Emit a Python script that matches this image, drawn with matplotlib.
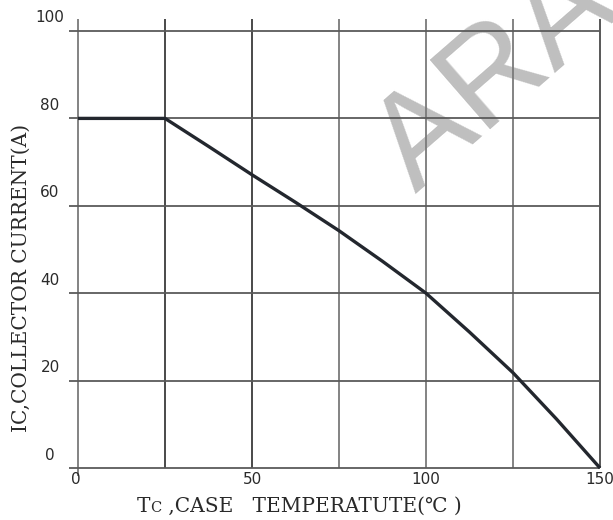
import matplotlib
matplotlib.use("Agg")
import matplotlib.pyplot as plt
from matplotlib.offsetbox import TextArea, HPacker, AnnotationBbox

# ---- data ----
temp_c = [0, 25, 37.5, 50, 62.5, 75, 87.5, 100, 112.5, 125, 137.5, 150]
current_a = [80, 80, 73.6, 67.1, 60.8, 54.3, 47.3, 40.0, 31.1, 21.8, 11.2, 0]
x_ticks = [0, 25, 50, 75, 100, 125, 150]
x_tick_labels = ["0", "50", "100", "150"]
x_tick_label_pos = [0, 50, 100, 150]
y_ticks = [0, 20, 40, 60, 80, 100]
y_tick_labels = ["0", "20", "40", "60", "80", "100"]
y_label = "IC,COLLECTOR CURRENT(A)"
x_label_parts = ["T", "C", " ,CASE   TEMPERATUTE(℃ )"]
watermark = "ARA"

W, H = 613, 520
fig = plt.figure(figsize=(W / 100, H / 100), dpi=100)
fig.patch.set_facecolor("white")

# watermark (behind grid)
fig.text(497 / W, 1 - 78 / H, watermark, rotation=41, rotation_mode="anchor",
         ha="center", va="center", fontsize=96, color="#bfbfbf",
         family=["Liberation Sans Narrow", "DejaVu Sans Condensed", "Liberation Sans"],
         zorder=0.5)

ax = fig.add_axes([78 / W, 1 - 468 / H, (600 - 78) / W, (468 - 31) / H])
ax.set_zorder(1)
ax.patch.set_alpha(0)
ax.set_xlim(0, 150)
ax.set_ylim(0, 100)
ax.set_axis_off()

vcolors = ["#7a7a7a", "#3a3a3a", "#3a3a3a", "#7a7a7a", "#7a7a7a", "#7a7a7a", "#4a4a4a"]
ax.vlines(x_ticks, 0, 102.7, colors=vcolors, linewidth=1.3, clip_on=False, zorder=1)
ax.vlines([0], -1.8, 0, colors=vcolors[0], linewidth=1.3, clip_on=False, zorder=1)
ax.hlines(y_ticks, -2.6, 150, colors="#5a5a5a", linewidth=1.3, clip_on=False, zorder=1)

ax.plot(temp_c, current_a, color="#23272e", linewidth=2.4, zorder=3,
        solid_capstyle="butt", solid_joinstyle="round", clip_on=False)

tick_kw = dict(fontsize=11, color="#2a2a2a", family="DejaVu Sans", annotation_clip=False)
for v, s in zip(y_ticks, y_tick_labels):
    ax.annotate(s, xy=(0, v), xytext=(-28, 13), textcoords="offset pixels",
                ha="center", va="center", **tick_kw)
for v, s in zip(x_tick_label_pos, x_tick_labels):
    ax.annotate(s, xy=(v, 0), xytext=(-2 if v == 0 else 0, -4), textcoords="offset pixels",
                ha="center", va="top", **tick_kw)

serif = ["DejaVu Serif", "Noto Sans CJK SC", "DejaVu Sans"]
fig.text(21 / W, 1 - 278 / H, y_label, rotation=90, ha="center", va="center",
         fontsize=14.5, color="#2a2a2a", family=serif)

sizes = [14.5, 10.5, 14.5]
parts = [TextArea(t, textprops=dict(fontsize=sz, color="#2a2a2a", family=serif))
         for t, sz in zip(x_label_parts, sizes)]
box = HPacker(children=parts, align="baseline", pad=0, sep=0)
ab = AnnotationBbox(box, (299 / W, 1 - 506 / H), xycoords="figure fraction",
                    frameon=False, box_alignment=(0.5, 0.5))
fig.add_artist(ab)

fig.savefig("out.png", dpi=100, facecolor="white")
